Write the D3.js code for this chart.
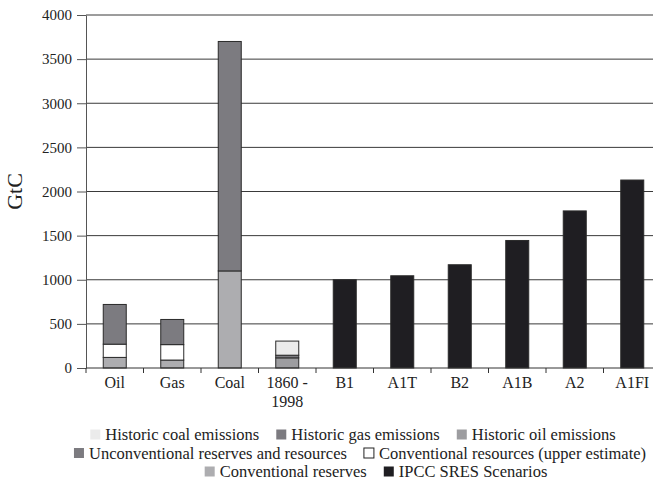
<!DOCTYPE html>
<html><head><meta charset="utf-8">
<script src="https://cdn.jsdelivr.net/npm/d3@7"></script>
<style>
html,body{margin:0;padding:0;background:#fff;}
svg text{font-family:"Liberation Serif","DejaVu Serif",serif;fill:#222;}
</style></head>
<body><svg id="chart" width="653" height="485" font-family="Liberation Serif, serif"></svg>
<script>
// ---- data ----
const categories = ["Oil","Gas","Coal","1860 - 1998","B1","A1T","B2","A1B","A2","A1FI"];
const conventionalReserves   = [120, 90, 1100, 0, 0, 0, 0, 0, 0, 0];
const conventionalResources  = [150, 175, 0, 0, 0, 0, 0, 0, 0, 0];
const unconventional         = [450, 285, 2600, 0, 0, 0, 0, 0, 0, 0];
const historicOil            = [0, 0, 0, 115, 0, 0, 0, 0, 0, 0];
const historicGas            = [0, 0, 0, 30, 0, 0, 0, 0, 0, 0];
const historicCoal           = [0, 0, 0, 160, 0, 0, 0, 0, 0, 0];
const ipccScenarios          = [0, 0, 0, 0, 1000, 1045, 1170, 1445, 1780, 2130];
const yTicks = [0, 500, 1000, 1500, 2000, 2500, 3000, 3500, 4000];
const yLabel = "GtC";

// series in stacking order (bottom to top)
const seriesDefs = [
  {key:"ipcc",   name:"IPCC SRES Scenarios", values:ipccScenarios, color:"#1f1e22"},
  {key:"cres",   name:"Conventional reserves", values:conventionalReserves, color:"#adadb0"},
  {key:"cresu",  name:"Conventional resources (upper estimate)", values:conventionalResources, color:"#ffffff"},
  {key:"uncon",  name:"Unconventional reserves and resources", values:unconventional, color:"#7c7b80"},
  {key:"hoil",   name:"Historic oil emissions", values:historicOil, color:"#9d9da0"},
  {key:"hgas",   name:"Historic gas emissions", values:historicGas, color:"#7c7b80"},
  {key:"hcoal",  name:"Historic coal emissions", values:historicCoal, color:"#ebebeb"}
];

const table = categories.map((c,i)=>{
  const row = {cat:c};
  seriesDefs.forEach(s=>row[s.key]=s.values[i]);
  return row;
});

const svg = d3.select("#chart");
const mLeft = 86, mRight = 661, mTop = 15, mBottom = 368;
const serif = '"Liberation Serif", "DejaVu Serif", serif';

const x = d3.scaleBand().domain(categories).range([mLeft, mRight]).padding(0);
const y = d3.scaleLinear().domain([0, 4000]).range([mBottom, mTop]);

// gridlines
svg.append("g").selectAll("line").data(yTicks.filter(t=>t>0)).join("line")
  .attr("x1", mLeft).attr("x2", 653)
  .attr("y1", d=>y(d)).attr("y2", d=>y(d))
  .attr("stroke", "#3a3a3a").attr("stroke-width", 1);

// y axis
const yAxis = svg.append("g").attr("transform", `translate(${mLeft},0)`)
  .call(d3.axisLeft(y).tickValues(yTicks).tickFormat(d3.format("d")).tickSize(9).tickPadding(5).tickSizeOuter(0));
yAxis.attr("font-family", serif).attr("font-size", 15);
yAxis.select(".domain").attr("stroke", "#555");
yAxis.selectAll(".tick line").attr("stroke", "#555");
yAxis.selectAll(".tick text").attr("font-size", 15).attr("fill", "#222").style("font-family", serif);

// y label
svg.append("text").attr("transform", `translate(22,${(mTop+mBottom)/2}) rotate(-90)`)
  .attr("text-anchor", "middle").attr("font-size", 22).text(yLabel);

// bars
const stack = d3.stack().keys(seriesDefs.map(s=>s.key));
const stacked = stack(table);
const barW = x.bandwidth()*0.4;
stacked.forEach((layer, li)=>{
  const s = seriesDefs[li];
  svg.append("g").selectAll("rect")
    .data(layer.filter(d=>d[1]-d[0] > 0))
    .join("rect")
    .attr("x", d=>x(d.data.cat) + (x.bandwidth()-barW)/2)
    .attr("width", barW)
    .attr("y", d=>y(d[1]))
    .attr("height", d=>y(d[0]) - y(d[1]))
    .attr("fill", s.color)
    .attr("stroke", "#2a2a2a").attr("stroke-width", 1);
});

// x axis
svg.append("line").attr("x1", mLeft).attr("x2", 653).attr("y1", mBottom).attr("y2", mBottom)
  .attr("stroke", "#333").attr("stroke-width", 1);
const tickXs = categories.map(c=>x(c)).concat([x(categories[categories.length-1])+x.bandwidth()]);
svg.append("g").selectAll("line").data(tickXs).join("line")
  .attr("x1", d=>d).attr("x2", d=>d).attr("y1", mBottom).attr("y2", mBottom+5)
  .attr("stroke", "#333");

const xl = svg.append("g").selectAll("text").data(categories).join("text")
  .attr("x", d=>x(d)+x.bandwidth()/2).attr("y", 388)
  .attr("text-anchor", "middle").attr("font-size", 16);
xl.each(function(d){
  const parts = d === "1860 - 1998" ? ["1860 -", "1998"] : [d];
  const t = d3.select(this);
  parts.forEach((p,i)=>{
    t.append("tspan").attr("x", x(d)+x.bandwidth()/2).attr("dy", i===0?0:18.5).text(p);
  });
});

// legend
const legendRows = [
  {keys:["hcoal","hgas","hoil"], cx:353, y:440},
  {keys:["uncon","cresu"], cx:360, y:458.5},
  {keys:["cres","ipcc"], cx:376, y:477}
];
const sq = 10, gapT = 5, gapI = 17;
legendRows.forEach(row=>{
  const g = svg.append("g");
  let cx = 0;
  row.keys.forEach((k,i)=>{
    const s = seriesDefs.find(d=>d.key===k);
    const ig = g.append("g").attr("transform", `translate(${cx},0)`);
    ig.append("rect").attr("x",0).attr("y", row.y-10.5).attr("width", sq).attr("height", sq)
      .attr("fill", s.color).attr("stroke", s.color==="#ffffff" ? "#222" : "none");
    const t = ig.append("text").attr("x", sq+gapT).attr("y", row.y).attr("font-size", 16.5).text(s.name);
    cx += sq + gapT + t.node().getComputedTextLength() + gapI;
  });
  const w = cx - gapI;
  g.attr("transform", `translate(${row.cx - w/2},0)`);
});
</script></body></html>
